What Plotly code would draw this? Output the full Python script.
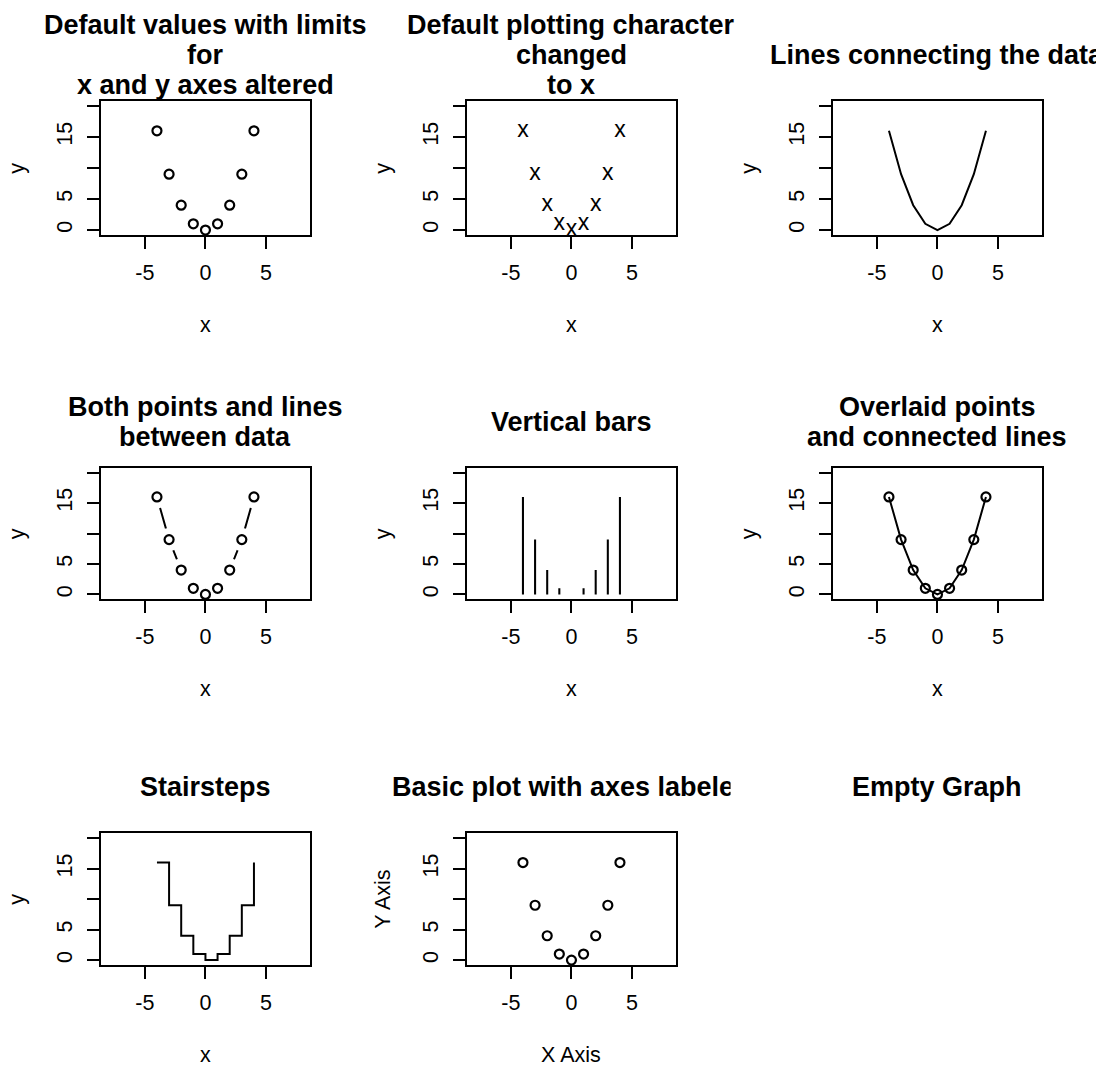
import plotly.graph_objects as go

# ---------------- data ----------------
x_vals = [-4, -3, -2, -1, 0, 1, 2, 3, 4]
y_vals = [16, 9, 4, 1, 0, 1, 4, 9, 16]
x_limits = [-8, 8]
y_limits = [0, 20]
x_tick_vals = [-5, 0, 5]
x_tick_text = ["-5", "0", "5"]
y_tick_vals = [0, 5, 10, 15, 20]
y_tick_text = ["0", "5", "", "15", ""]

panel_titles = [
    ["Default values with limits", "for", "x and y axes altered"],
    ["Default plotting character", "changed", "to x"],
    ["Lines connecting the data"],
    ["Both points and lines", "between data"],
    ["Vertical bars"],
    ["Overlaid points", "and connected lines"],
    ["Stairsteps"],
    ["Basic plot with axes labeled"],
    ["Empty Graph"],
]
x_titles = ["x", "x", "x", "x", "x", "x", "x", "X Axis"]
y_titles = ["y", "y", "y", "y", "y", "y", "y", "Y Axis"]

# ---------------- layout geometry (px) ----------------
W, H = 1096, 1066
col_left = [100.7, 466.7, 832.7]
col_w = 209.5
row_top = [101.0, 467.7, 833.3]
row_bot = [235.0, 599.3, 965.0]
FONT = "Liberation Sans, Arial, Helvetica, sans-serif"
AX_FS = 21.5
TITLE_FS = 27


def fx(px):
    return px / W


def fy(py):
    return 1 - py / H


def ext(lim):
    d = (lim[1] - lim[0]) * 0.04
    return [lim[0] - d, lim[1] + d]


fig = go.Figure()
BLACK = "black"
LW = 2

circle_marker = dict(symbol="circle-open", size=9, color=BLACK, line=dict(width=2.2, color=BLACK))


def ax(i):
    return ("x" if i == 0 else f"x{i+1}", "y" if i == 0 else f"y{i+1}")


# panel 1: points
xa, ya = ax(0)
fig.add_trace(go.Scatter(x=x_vals, y=y_vals, mode="markers", marker=circle_marker,
                         xaxis=xa, yaxis=ya, cliponaxis=False))
# panel 2: character x
xa, ya = ax(1)
fig.add_trace(go.Scatter(x=x_vals, y=y_vals, mode="text", text=["x"] * len(x_vals),
                         textposition="middle center",
                         textfont=dict(family=FONT, size=23, color=BLACK),
                         xaxis=xa, yaxis=ya, cliponaxis=False))
# panel 3: lines
xa, ya = ax(2)
fig.add_trace(go.Scatter(x=x_vals, y=y_vals, mode="lines", line=dict(color=BLACK, width=LW),
                         xaxis=xa, yaxis=ya))
# panel 4: both (points + gapped lines)
xa, ya = ax(3)
fig.add_trace(go.Scatter(x=x_vals, y=y_vals, mode="lines", line=dict(color=BLACK, width=LW),
                         xaxis=xa, yaxis=ya))
fig.add_trace(go.Scatter(x=x_vals, y=y_vals, mode="markers",
                         marker=dict(symbol="circle", size=23, color="white", line=dict(width=0)),
                         xaxis=xa, yaxis=ya))
fig.add_trace(go.Scatter(x=x_vals, y=y_vals, mode="markers", marker=circle_marker,
                         xaxis=xa, yaxis=ya, cliponaxis=False))
# panel 5: vertical bars
xa, ya = ax(4)
fig.add_trace(go.Bar(x=x_vals, y=y_vals, width=0.17, marker=dict(color=BLACK, line=dict(width=0)),
                     xaxis=xa, yaxis=ya))
# panel 6: overlaid
xa, ya = ax(5)
fig.add_trace(go.Scatter(x=x_vals, y=y_vals, mode="lines+markers",
                         line=dict(color=BLACK, width=LW), marker=circle_marker,
                         xaxis=xa, yaxis=ya, cliponaxis=False))
# panel 7: stairsteps
xa, ya = ax(6)
fig.add_trace(go.Scatter(x=x_vals, y=y_vals, mode="lines", line=dict(color=BLACK, width=LW, shape="hv"),
                         xaxis=xa, yaxis=ya))
# panel 8: basic with labels
xa, ya = ax(7)
fig.add_trace(go.Scatter(x=x_vals, y=y_vals, mode="markers", marker=circle_marker,
                         xaxis=xa, yaxis=ya, cliponaxis=False))

layout = dict(
    width=W, height=H, margin=dict(l=0, r=0, t=0, b=0),
    paper_bgcolor="white", plot_bgcolor="white", showlegend=False,
    font=dict(family=FONT, size=AX_FS, color=BLACK),
)

annotations = []
for i in range(9):
    r, c = divmod(i, 3)
    left = col_left[c]
    right = left + col_w
    top = row_top[r]
    bot = row_bot[r]
    cx = (left + right) / 2
    # titles
    lines = panel_titles[i]
    n = len(lines)
    for k, line in enumerate(lines):
        yc = top - 46 + (k - (n - 1) / 2) * 30
        ann = dict(text=line, xref="paper", yref="paper", x=fx(cx), y=fy(yc),
                   xanchor="center", yanchor="middle", showarrow=False,
                   font=dict(family=FONT, size=TITLE_FS, color=BLACK, weight="bold"))
        if i == 7:
            # clipped at the figure-region boundary
            text_w = 13.283 * TITLE_FS
            lx = cx - text_w / 2
            clip_x = 2 * W / 3
            ann.update(x=fx(lx), xanchor="left", width=clip_x - lx, align="left",
                       borderpad=0, borderwidth=0)
        annotations.append(ann)
    if i == 8:
        continue
    # axes
    suffix = "" if i == 0 else str(i + 1)
    layout["xaxis" + suffix] = dict(
        domain=[fx(left), fx(right)], range=ext(x_limits), anchor="y" + suffix,
        showline=True, mirror=True, linecolor=BLACK, linewidth=LW,
        ticks="outside", ticklen=12, tickwidth=LW, tickcolor=BLACK,
        tickvals=x_tick_vals, ticktext=x_tick_text, showgrid=False, zeroline=False,
        tickfont=dict(family=FONT, size=AX_FS, color=BLACK), ticklabelstandoff=5,
        fixedrange=True,
    )
    layout["yaxis" + suffix] = dict(
        domain=[fy(bot), fy(top)], range=ext(y_limits), anchor="x" + suffix,
        showline=True, mirror=True, linecolor=BLACK, linewidth=LW,
        ticks="outside", ticklen=12, tickwidth=LW, tickcolor=BLACK,
        tickvals=y_tick_vals, ticktext=y_tick_text, tickangle=-90,
        showgrid=False, zeroline=False,
        tickfont=dict(family=FONT, size=AX_FS, color=BLACK), ticklabelstandoff=6,
        fixedrange=True,
    )
    # axis titles
    annotations.append(dict(text=x_titles[i], xref="paper", yref="paper",
                            x=fx(cx), y=fy(bot + 90), xanchor="center", yanchor="middle",
                            showarrow=False, font=dict(family=FONT, size=AX_FS, color=BLACK)))
    annotations.append(dict(text=y_titles[i], xref="paper", yref="paper",
                            x=fx(left - 84), y=fy((top + bot) / 2), xanchor="center", yanchor="middle",
                            textangle=-90, showarrow=False,
                            font=dict(family=FONT, size=AX_FS, color=BLACK)))

layout["annotations"] = annotations
fig.update_layout(**layout)
fig.write_html("out.html")
